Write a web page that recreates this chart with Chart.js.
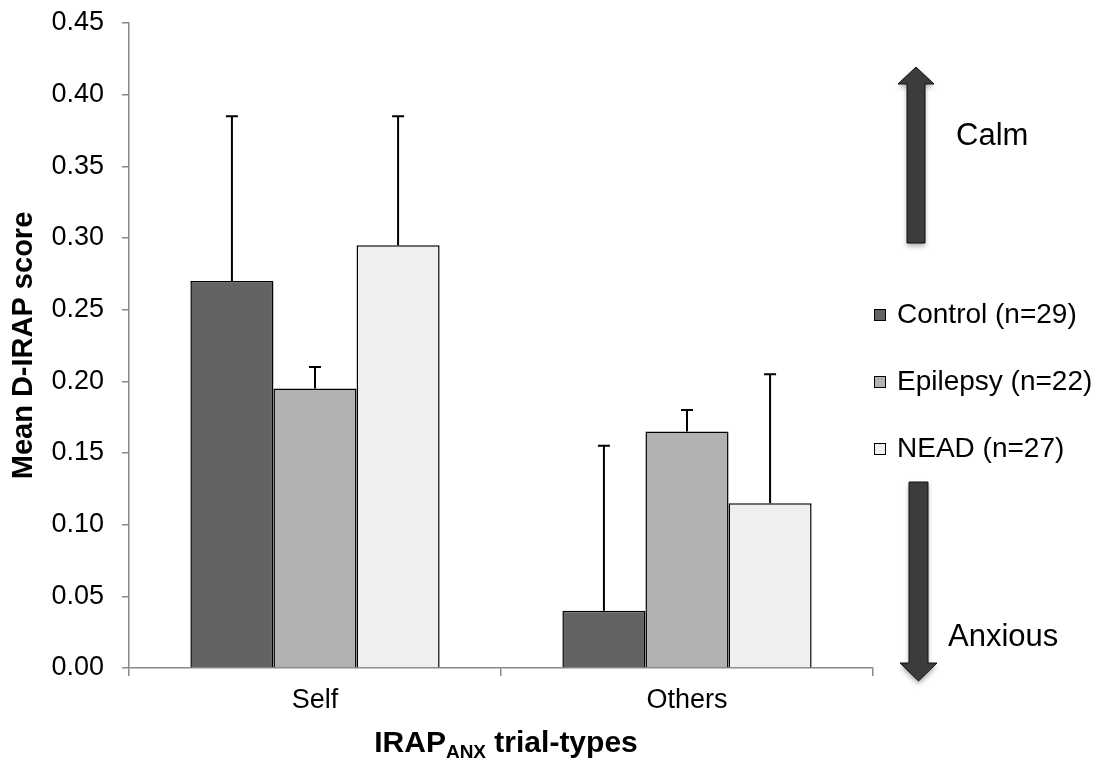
<!DOCTYPE html>
<html>
<head>
<meta charset="utf-8">
<script src="https://cdn.jsdelivr.net/npm/chart.js@4.4.1/dist/chart.umd.min.js"></script>
<style>
  body { margin: 0; background: #fff; }
  #wrap { width: 1116px; height: 760px; }
</style>
</head>
<body>
<div id="wrap"><canvas id="chart" width="1116" height="760"></canvas></div>
<script>
// Données
const categories = ["Self", "Others"];
const groupLabels = ["Control (n=29)", "Epilepsy (n=22)", "NEAD (n=27)"];
const controlMeans = [0.27, 0.04];
const epilepsyMeans = [0.195, 0.165];
const neadMeans = [0.295, 0.115];
const controlErr = [0.115, 0.115];
const epilepsyErr = [0.015, 0.015];
const neadErr = [0.09, 0.09];
const yTicks = [0, 0.05, 0.10, 0.15, 0.20, 0.25, 0.30, 0.35, 0.40, 0.45];

const colors = ["#636363", "#b2b2b2", "#efefef"];
const FONT = "'Liberation Sans', Arial, sans-serif";
const axisGray = "#898989";

// Barres d'erreur (côté positif seulement)
const errorBars = {
  id: "errorBars",
  afterDatasetsDraw(chart) {
    const ctx = chart.ctx;
    const y = chart.scales.y;
    chart.data.datasets.forEach((ds, i) => {
      const meta = chart.getDatasetMeta(i);
      meta.data.forEach((bar, j) => {
        const top = y.getPixelForValue(ds.data[j] + ds.errors[j]);
        ctx.save();
        ctx.strokeStyle = "#000";
        ctx.lineWidth = 2;
        ctx.beginPath();
        ctx.moveTo(bar.x, bar.y);
        ctx.lineTo(bar.x, top);
        ctx.moveTo(bar.x - 6, top);
        ctx.lineTo(bar.x + 6, top);
        ctx.stroke();
        ctx.restore();
      });
    });
  }
};

// Flèche
function arrow(ctx, x, yFrom, yTo, shaftW, headW, headH) {
  const dir = yTo < yFrom ? -1 : 1;
  const base = yTo - dir * headH;
  ctx.beginPath();
  ctx.moveTo(x - shaftW / 2, yFrom);
  ctx.lineTo(x - shaftW / 2, base);
  ctx.lineTo(x - headW / 2, base);
  ctx.lineTo(x, yTo);
  ctx.lineTo(x + headW / 2, base);
  ctx.lineTo(x + shaftW / 2, base);
  ctx.lineTo(x + shaftW / 2, yFrom);
  ctx.closePath();
  ctx.save();
  ctx.shadowColor = "rgba(0,0,0,0.35)";
  ctx.shadowBlur = 5;
  ctx.shadowOffsetY = 3;
  ctx.fillStyle = "#3c3c3c";
  ctx.fill();
  ctx.restore();
  ctx.strokeStyle = "#111";
  ctx.lineWidth = 1;
  ctx.stroke();
}

// Titres, légende, flèches
const extras = {
  id: "extras",
  afterDraw(chart) {
    const ctx = chart.ctx;
    const area = chart.chartArea;
    ctx.save();

    // titre axe Y
    ctx.save();
    ctx.translate(24, (area.top + area.bottom) / 2);
    ctx.rotate(-Math.PI / 2);
    ctx.font = "bold 29px " + FONT;
    ctx.fillStyle = "#000";
    ctx.textAlign = "center";
    ctx.textBaseline = "middle";
    ctx.fillText("Mean D-IRAP score", 0, 0);
    ctx.restore();

    // titre axe X avec indice
    ctx.fillStyle = "#000";
    ctx.textBaseline = "alphabetic";
    ctx.textAlign = "left";
    const big = "bold 30px " + FONT, small = "bold 19px " + FONT;
    ctx.font = big; const w1 = ctx.measureText("IRAP").width;
    ctx.font = small; const w2 = ctx.measureText("ANX").width;
    ctx.font = big; const w3 = ctx.measureText(" trial-types").width;
    let x = 506 - (w1 + w2 + w3) / 2;
    ctx.font = big; ctx.fillText("IRAP", x, 752); x += w1;
    ctx.font = small; ctx.fillText("ANX", x, 758); x += w2;
    ctx.font = big; ctx.fillText(" trial-types", x, 752);

    // légende
    const legendY = [314, 381, 448];
    ctx.font = "28px " + FONT;
    ctx.textBaseline = "middle";
    chart.data.datasets.forEach((ds, i) => {
      ctx.fillStyle = ds.backgroundColor;
      ctx.fillRect(874, legendY[i] - 5, 11, 11);
      ctx.strokeStyle = "#000";
      ctx.lineWidth = 1;
      ctx.strokeRect(874.5, legendY[i] - 4.5, 11, 11);
      ctx.fillStyle = "#000";
      ctx.fillText(ds.label, 897, legendY[i] + 1);
    });

    // flèches
    arrow(ctx, 916, 243, 67, 18, 36, 17);
    arrow(ctx, 918.5, 482, 681, 19, 37, 18);
    ctx.fillStyle = "#000";
    ctx.font = "31px " + FONT;
    ctx.textBaseline = "alphabetic";
    ctx.fillText("Calm", 956, 145);
    ctx.fillText("Anxious", 948, 646);
    ctx.restore();
  }
};

function makeSet(label, data, errors, color) {
  return {
    label, data, errors,
    backgroundColor: color,
    borderColor: "#000",
    borderWidth: 1.5,
    categoryPercentage: 0.67,
    barPercentage: 1.0
  };
}

new Chart(document.getElementById("chart"), {
  type: "bar",
  data: {
    labels: categories,
    datasets: [
      makeSet(groupLabels[0], controlMeans, controlErr, colors[0]),
      makeSet(groupLabels[1], epilepsyMeans, epilepsyErr, colors[1]),
      makeSet(groupLabels[2], neadMeans, neadErr, colors[2])
    ]
  },
  options: {
    responsive: false,
    animation: false,
    layout: { padding: { left: 0, right: 243, top: 23, bottom: 0 } },
    plugins: { legend: { display: false }, tooltip: { enabled: false } },
    scales: {
      x: {
        grid: { offset: true, drawOnChartArea: false, color: axisGray, tickLength: 8, lineWidth: 1.5 },
        border: { color: axisGray, width: 1.5 },
        ticks: { color: "#000", font: { family: FONT, size: 27 }, padding: 8 },
        afterFit(s) { s.height = 92; s.paddingLeft = 0; s.paddingRight = 0; }
      },
      y: {
        min: 0,
        max: 0.45,
        afterBuildTicks(s) { s.ticks = yTicks.map(v => ({ value: v })); },
        grid: { drawOnChartArea: false, color: axisGray, tickLength: 7, lineWidth: 1.5 },
        border: { color: axisGray, width: 1.5 },
        ticks: {
          color: "#000",
          font: { family: FONT, size: 27 },
          padding: 18,
          callback: v => Number(v).toFixed(2)
        },
        afterFit(s) { s.width = 129; s.paddingTop = 0; s.paddingBottom = 0; }
      }
    }
  },
  plugins: [errorBars, extras]
});
</script>
</body>
</html>
